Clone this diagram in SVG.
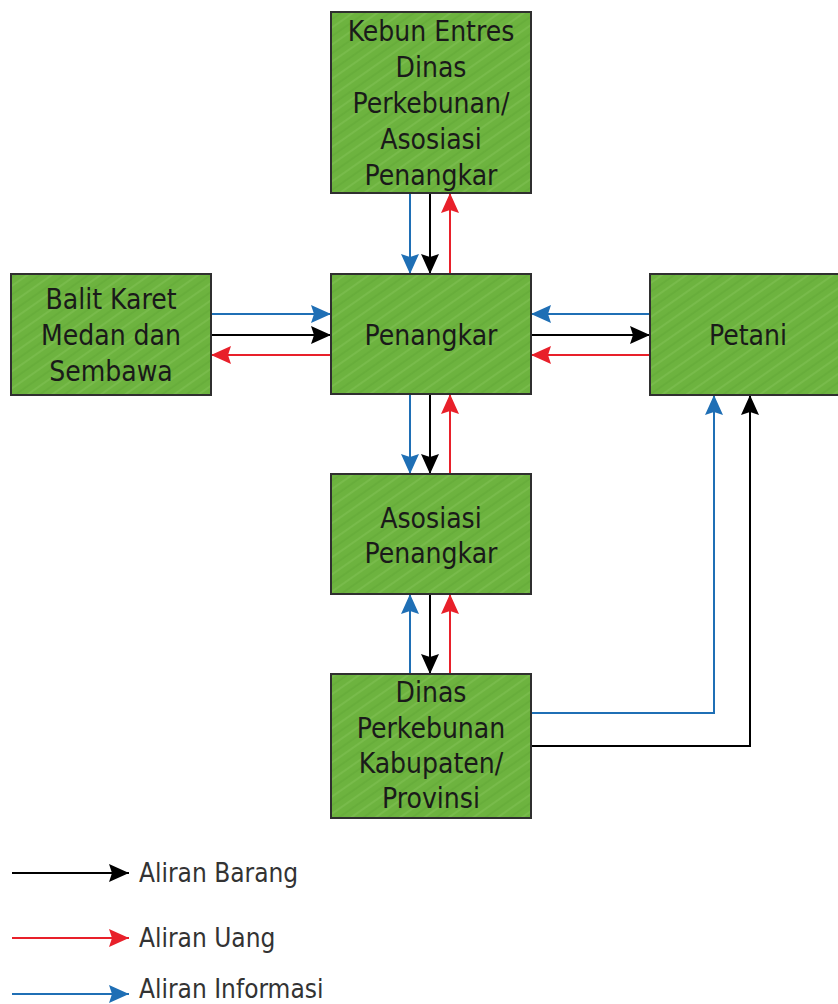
<svg xmlns="http://www.w3.org/2000/svg" width="838" height="1004" viewBox="0 0 838 1004">
<style>
.box{fill:url(#tex);stroke:#2f2f2f;stroke-width:2}
.t{font-family:"DejaVu Sans Condensed","DejaVu Sans",sans-serif;font-stretch:condensed;font-size:28px;fill:#1a1a1a;text-anchor:middle}
.lg{font-family:"DejaVu Sans Condensed","DejaVu Sans",sans-serif;font-stretch:condensed;font-size:26px;fill:#333}
.k{stroke:#000;stroke-width:2;fill:none}
.r{stroke:#e8202a;stroke-width:2;fill:none}
.b{stroke:#1f6fb5;stroke-width:2;fill:none}
</style>
<defs>
<pattern id="tex" patternUnits="userSpaceOnUse" width="14" height="14" patternTransform="rotate(-35)">
<rect width="14" height="14" fill="#6db33f"/>
<line x1="0" y1="3" x2="14" y2="3" stroke="#8bc95e" stroke-width="1.2" opacity="0.6"/>
<line x1="0" y1="10" x2="14" y2="10" stroke="#5aa032" stroke-width="1" opacity="0.6"/>
</pattern>
<marker id="mk" markerUnits="userSpaceOnUse" viewBox="0 0 20 18" markerWidth="20" markerHeight="18" refX="20" refY="9" orient="auto"><path d="M0,0 L20,9 L0,18 L3,9 Z" fill="#000"/></marker>
<marker id="mr" markerUnits="userSpaceOnUse" viewBox="0 0 20 18" markerWidth="20" markerHeight="18" refX="20" refY="9" orient="auto"><path d="M0,0 L20,9 L0,18 L3,9 Z" fill="#e8202a"/></marker>
<marker id="mb" markerUnits="userSpaceOnUse" viewBox="0 0 20 18" markerWidth="20" markerHeight="18" refX="20" refY="9" orient="auto"><path d="M0,0 L20,9 L0,18 L3,9 Z" fill="#1f6fb5"/></marker>
</defs>
<rect width="838" height="1004" fill="#fff"/>
<g id="connectors">
<path class="b" d="M410,193 V274" marker-end="url(#mb)"/>
<path class="k" d="M430,193 V274" marker-end="url(#mk)"/>
<path class="r" d="M450,274 V193" marker-end="url(#mr)"/>
<path class="b" d="M410,394 V474" marker-end="url(#mb)"/>
<path class="k" d="M430,394 V474" marker-end="url(#mk)"/>
<path class="r" d="M450,474 V394" marker-end="url(#mr)"/>
<path class="b" d="M410,674 V594" marker-end="url(#mb)"/>
<path class="k" d="M430,594 V674" marker-end="url(#mk)"/>
<path class="r" d="M450,674 V594" marker-end="url(#mr)"/>
<path class="b" d="M211,314 H331" marker-end="url(#mb)"/>
<path class="k" d="M211,335 H331" marker-end="url(#mk)"/>
<path class="r" d="M331,355 H211" marker-end="url(#mr)"/>
<path class="b" d="M650,314 H531" marker-end="url(#mb)"/>
<path class="k" d="M531,335 H650" marker-end="url(#mk)"/>
<path class="r" d="M650,355 H531" marker-end="url(#mr)"/>
<path class="b" d="M531,713 H714 V395" marker-end="url(#mb)"/>
<path class="k" d="M531,746 H750 V395" marker-end="url(#mk)"/>
</g>
<g id="kebun">
<rect class="box" x="331" y="12" width="200" height="181"/>
<text class="t" x="431" y="41">Kebun Entres</text>
<text class="t" x="431" y="77">Dinas</text>
<text class="t" x="431" y="113">Perkebunan/</text>
<text class="t" x="431" y="149">Asosiasi</text>
<text class="t" x="431" y="185">Penangkar</text>
</g>
<g id="penangkar">
<rect class="box" x="331" y="274" width="200" height="120"/>
<text class="t" x="431" y="345">Penangkar</text>
</g>
<g id="balit">
<rect class="box" x="11" y="274" width="200" height="121"/>
<text class="t" x="111" y="309">Balit Karet</text>
<text class="t" x="111" y="345">Medan dan</text>
<text class="t" x="111" y="381">Sembawa</text>
</g>
<g id="petani">
<rect class="box" x="650" y="274" width="200" height="121"/>
<text class="t" x="748" y="345">Petani</text>
</g>
<g id="asosiasi">
<rect class="box" x="331" y="474" width="200" height="120"/>
<text class="t" x="431" y="528">Asosiasi</text>
<text class="t" x="431" y="563">Penangkar</text>
</g>
<g id="dinas">
<rect class="box" x="331" y="674" width="200" height="144"/>
<text class="t" x="431" y="702">Dinas</text>
<text class="t" x="431" y="738">Perkebunan</text>
<text class="t" x="431" y="773">Kabupaten/</text>
<text class="t" x="431" y="808">Provinsi</text>
</g>
<g id="legend">
<path class="k" d="M12,873 H129" marker-end="url(#mk)"/>
<text class="lg" x="139" y="882">Aliran Barang</text>
<path class="r" d="M12,938 H129" marker-end="url(#mr)"/>
<text class="lg" x="139" y="947">Aliran Uang</text>
<path class="b" d="M12,994 H129" marker-end="url(#mb)"/>
<text class="lg" x="139" y="998">Aliran Informasi</text>
</g>
</svg>
